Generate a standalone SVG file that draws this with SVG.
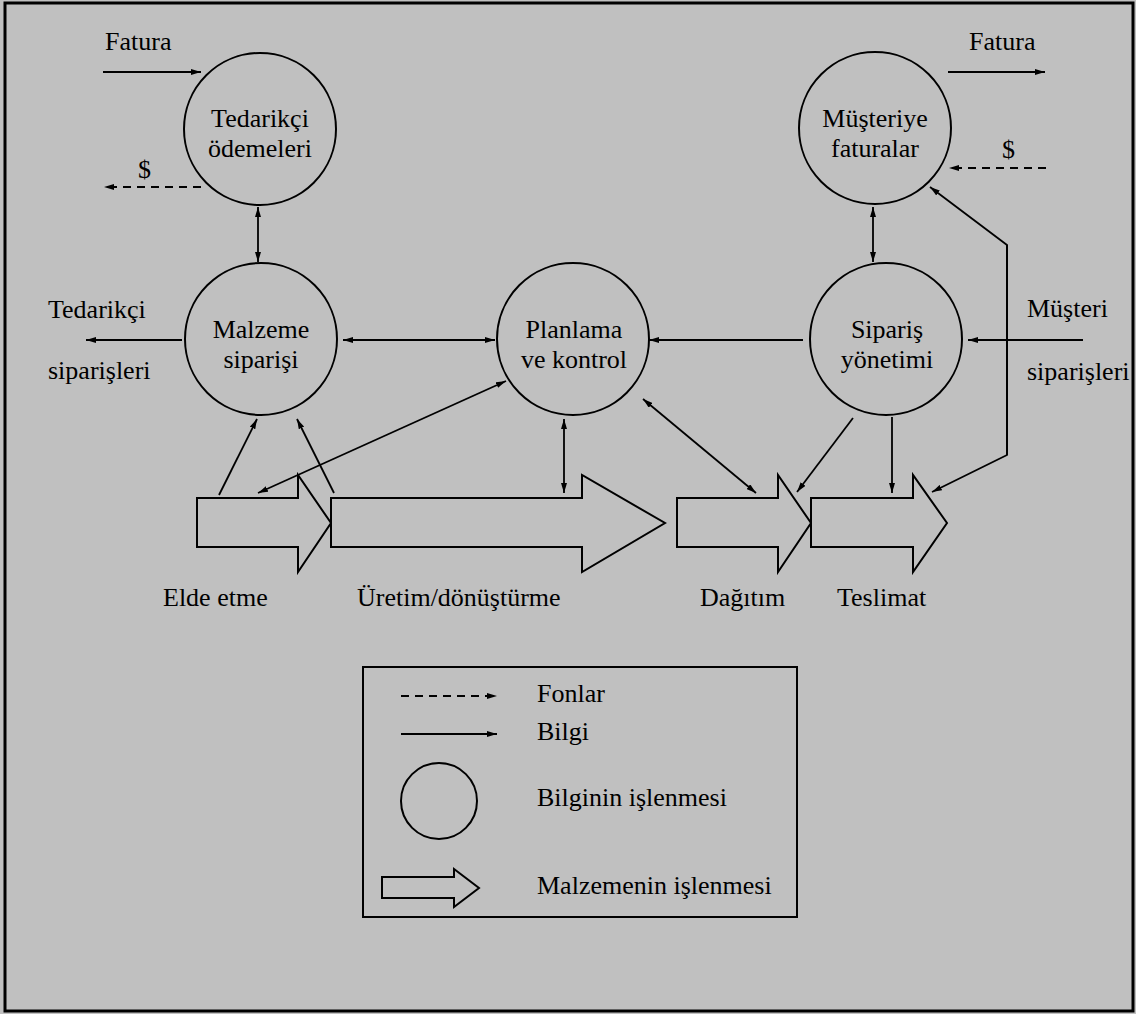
<svg xmlns="http://www.w3.org/2000/svg" width="1136" height="1014" viewBox="0 0 1136 1014">
<defs>
<marker id="ah" viewBox="0 0 10 6" refX="10" refY="3" markerWidth="10" markerHeight="6" markerUnits="userSpaceOnUse" orient="auto-start-reverse">
<path d="M0,0 L10,3 L0,6 z" fill="#000"/>
</marker>
<style>
text{font-family:"Liberation Serif","Times New Roman",serif;font-size:26px;fill:#000}
.m{text-anchor:middle}
.c{fill:none;stroke:#000;stroke-width:2}
.ln{fill:none;stroke:#000;stroke-width:1.8}
.a{marker-end:url(#ah)}
.b{marker-start:url(#ah);marker-end:url(#ah)}
.d{stroke-dasharray:8 6}
.blk{fill:none;stroke:#000;stroke-width:2;stroke-linejoin:miter}
</style>
</defs>
<rect x="0" y="0" width="1136" height="1014" fill="#c0c0c0"/>
<rect x="5" y="3" width="1128" height="1008" fill="none" stroke="#000" stroke-width="3"/>

<g id="tedarikci-odemeleri">
<circle class="c" cx="260" cy="129" r="76"/>
<text class="m" x="260" y="127">Tedarikçi</text>
<text class="m" x="260" y="157">ödemeleri</text>
</g>
<g id="musteriye-faturalar">
<circle class="c" cx="875" cy="128" r="76"/>
<text class="m" x="875" y="127">Müşteriye</text>
<text class="m" x="875" y="157">faturalar</text>
</g>
<g id="malzeme-siparisi">
<circle class="c" cx="261" cy="339" r="76"/>
<text class="m" x="261" y="338">Malzeme</text>
<text class="m" x="261" y="368">siparişi</text>
</g>
<g id="planlama-kontrol">
<circle class="c" cx="573" cy="339" r="76"/>
<text class="m" x="574" y="338">Planlama</text>
<text class="m" x="574" y="368">ve kontrol</text>
</g>
<g id="siparis-yonetimi">
<circle class="c" cx="886" cy="339" r="76"/>
<text class="m" x="887" y="338">Sipariş</text>
<text class="m" x="887" y="368">yönetimi</text>
</g>

<g id="elde-etme">
<polygon class="blk" points="197,498 298,498 298,475 331,523 298,572 298,547 197,547"/>
<text x="163" y="606">Elde etme</text>
</g>
<g id="uretim">
<polygon class="blk" points="331,498 582,498 582,475 665,523 582,572 582,547 331,547"/>
<text x="357" y="606">Üretim/dönüştürme</text>
</g>
<g id="dagitim">
<polygon class="blk" points="677,498 778,498 778,475 811,523 778,572 778,547 677,547"/>
<text x="700" y="606">Dağıtım</text>
</g>
<g id="teslimat">
<polygon class="blk" points="811,498 913,498 913,475 947,523 913,572 913,547 811,547"/>
<text x="837" y="606">Teslimat</text>
</g>

<g id="labels">
<text x="105" y="50">Fatura</text>
<text x="138" y="178">$</text>
<text x="969" y="50">Fatura</text>
<text x="1002" y="158">$</text>
<text x="48" y="318">Tedarikçi</text>
<text x="48" y="379">siparişleri</text>
<text x="1027" y="317">Müşteri</text>
<text x="1027" y="380">siparişleri</text>
</g>

<g id="connectors">
<line class="ln a" x1="103" y1="72" x2="201" y2="72"/>
<line class="ln a d" x1="201" y1="187" x2="104" y2="187"/>
<line class="ln a" x1="948" y1="72" x2="1045" y2="72"/>
<line class="ln a d" x1="1046" y1="168" x2="949" y2="168"/>
<line class="ln b" x1="258" y1="207" x2="258" y2="262"/>
<line class="ln b" x1="873" y1="207" x2="873" y2="262"/>
<line class="ln a" x1="182" y1="340" x2="86" y2="340"/>
<line class="ln b" x1="343" y1="340" x2="495" y2="340"/>
<line class="ln a" x1="803" y1="340" x2="649" y2="340"/>
<line class="ln a" x1="1083" y1="340" x2="968" y2="340"/>
<polyline class="ln a" points="1007,455 1007,245 930,187"/>
<polyline class="ln a" points="1007,245 1007,455 932,492"/>
<line class="ln a" x1="219" y1="495" x2="257" y2="419"/>
<line class="ln a" x1="334" y1="493" x2="297" y2="419"/>
<line class="ln b" x1="258" y1="493" x2="506" y2="381"/>
<line class="ln b" x1="564" y1="419" x2="564" y2="493"/>
<line class="ln b" x1="643" y1="399" x2="756" y2="493"/>
<line class="ln a" x1="853" y1="418" x2="797" y2="492"/>
<line class="ln a" x1="892" y1="417" x2="892" y2="493"/>
</g>

<g id="legend">
<rect x="363" y="667" width="434" height="250" fill="none" stroke="#000" stroke-width="2"/>
<line class="ln a d" x1="401" y1="696" x2="497" y2="696"/>
<text x="537" y="702">Fonlar</text>
<line class="ln a" x1="401" y1="734" x2="497" y2="734"/>
<text x="537" y="740">Bilgi</text>
<circle class="c" cx="439" cy="801" r="38"/>
<text x="537" y="806">Bilginin işlenmesi</text>
<polygon class="blk" points="382,877 454,877 454,869 479,888 454,907 454,898 382,898"/>
<text x="537" y="894">Malzemenin işlenmesi</text>
</g>
</svg>
